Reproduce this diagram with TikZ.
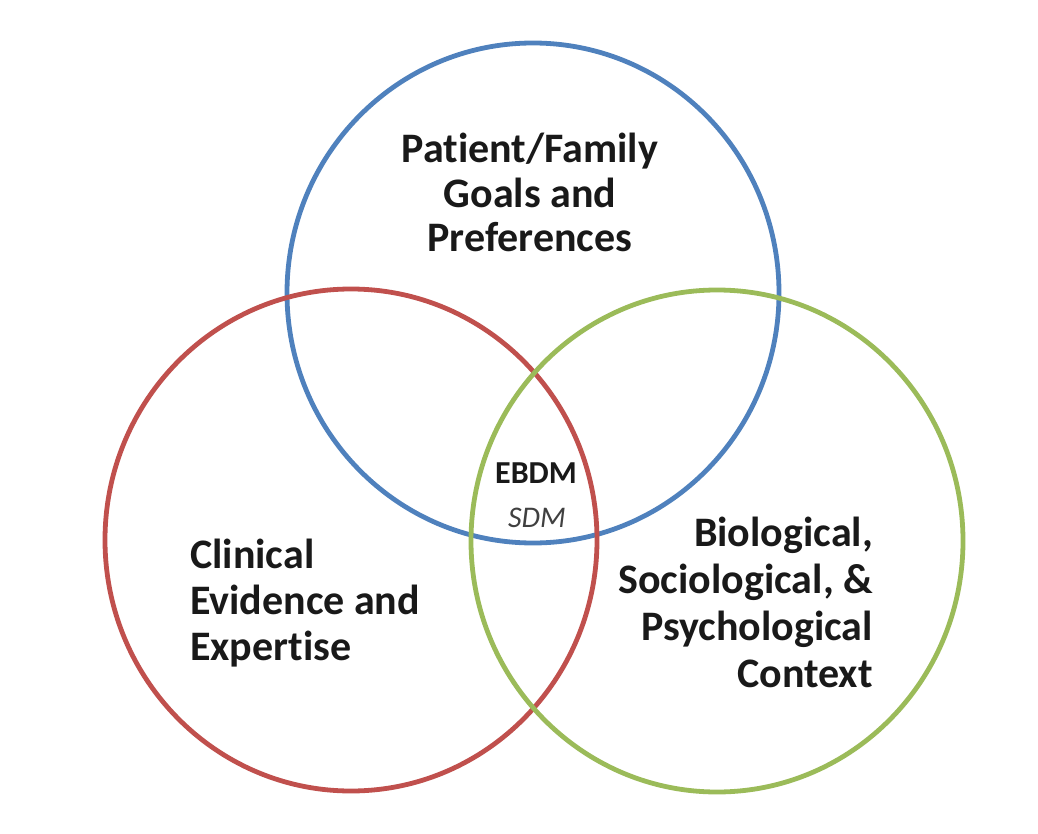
\documentclass[tikz,border=0pt]{standalone}
\usepackage{fontspec}
\setmainfont{Carlito}[Ligatures=NoCommon]
\usetikzlibrary{positioning}

\definecolor{ringblue}{HTML}{4F81BD}
\definecolor{ringred}{HTML}{C0504D}
\definecolor{ringgreen}{HTML}{9BBB59}

\begin{document}
\begin{tikzpicture}[x=1pt, y=-1pt, ring/.style={line width=4.8pt}, lbl/.style={font=\fontsize{42}{44}\selectfont\bfseries, inner sep=0pt, text=black!90}]
	\useasboundingbox (0,0) rectangle (1038,834);
	\draw[ring, ringblue] (533,293) ellipse [x radius=246, y radius=250];
	\draw[ring, ringred] (351,540) ellipse [x radius=246, y radius=251];
	\draw[ring, ringgreen] (717,541) ellipse [x radius=246, y radius=251];
	\node[lbl, align=center, anchor=base, font=\fontsize{42}{44.5}\selectfont\bfseries] (goals) at (530,252) {Patient/Family\\Goals and\\Preferences};
	\node[lbl, align=left, anchor=base west, font=\fontsize{42}{46}\selectfont\bfseries] (clinical) at (190,660) {Clinical\\Evidence and\\Expertise};
	\node[lbl, align=right, anchor=base east, font=\fontsize{42}{47}\selectfont\bfseries] (context) at (873,687) {Biological,\\Sociological, \&\\Psychological\\Context};
	\node[lbl, anchor=base, font=\fontsize{32}{32}\selectfont\bfseries] (ebdm) at (536,483) {EBDM};
	\node[lbl, anchor=base, text=black!75, font=\fontsize{30}{30}\selectfont\itshape] (sdm) at (537,527) {SDM};
\end{tikzpicture}
\end{document}
